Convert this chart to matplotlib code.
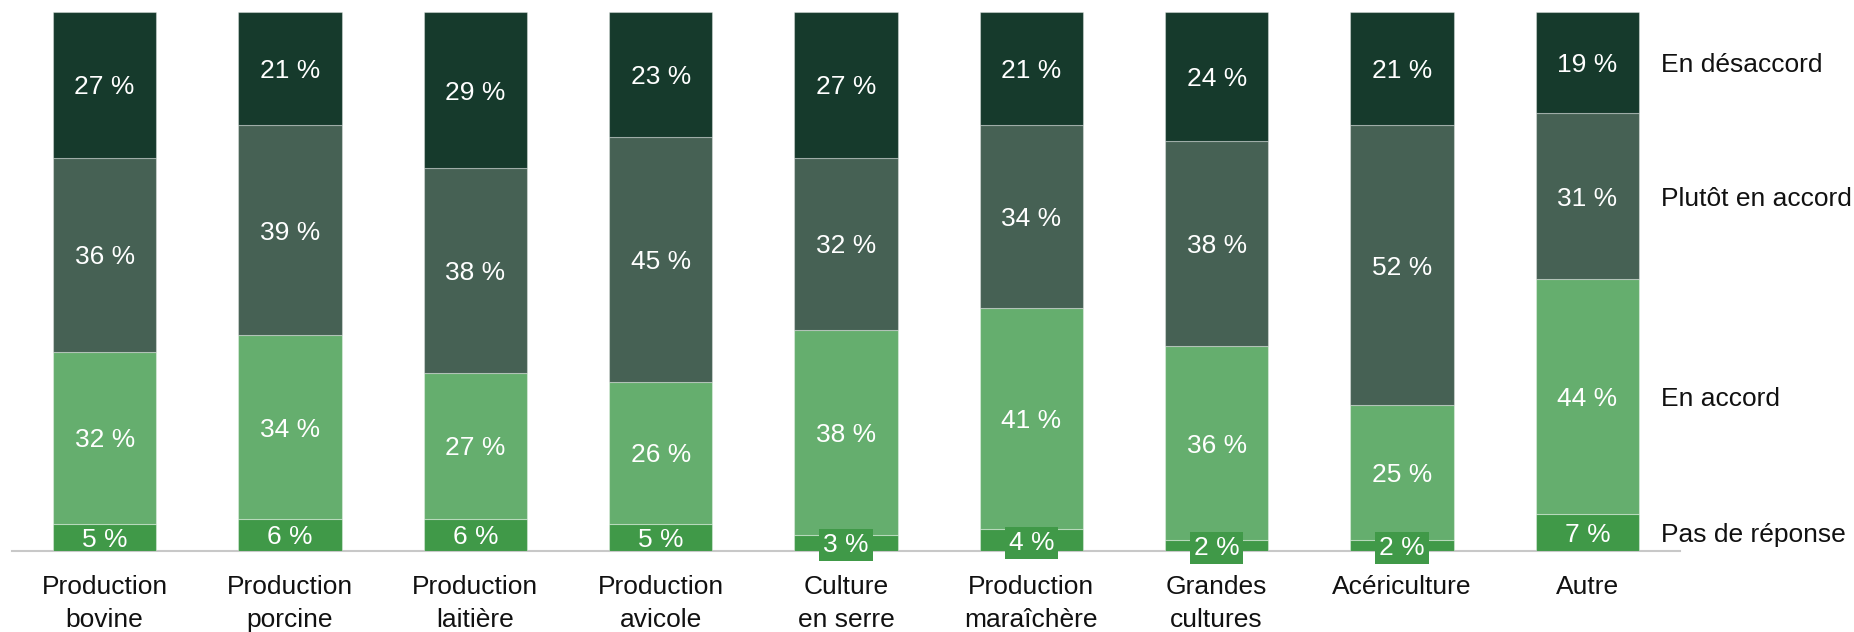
import numpy as np
import matplotlib
matplotlib.use('Agg')
import matplotlib.pyplot as plt

plt.rcParams['font.family'] = ['Liberation Sans', 'DejaVu Sans']

# categories (bottom to top in each bar)
categories = ['Production\nbovine', 'Production\nporcine', 'Production\nlaitière',
              'Production\navicole', 'Culture\nen serre', 'Production\nmaraîchère',
              'Grandes\ncultures', 'Acériculture', 'Autre']
series_names = ['Pas de réponse', 'En accord', 'Plutôt en accord', 'En désaccord']
pas_de_reponse = [5, 6, 6, 5, 3, 4, 2, 2, 7]
en_accord = [32, 34, 27, 26, 38, 41, 36, 25, 44]
plutot_en_accord = [36, 39, 38, 45, 32, 34, 38, 52, 31]
en_desaccord = [27, 21, 29, 23, 27, 21, 24, 21, 19]

colors = ['#409948', '#65ae6e', '#466154', '#163a2c']

def main():
    data = np.array([pas_de_reponse, en_accord, plutot_en_accord, en_desaccord], dtype=float)
    totals = data.sum(axis=0)
    shares = data / totals * 100

    fig = plt.figure(figsize=(18.54, 6.32), dpi=100)
    ax = fig.add_axes([12/1854, 1 - 551/632, (1680 - 12)/1854, (551 - 12)/632])

    x = np.arange(len(categories))
    width = 0.556
    bottom = np.zeros(len(categories))
    for i, name in enumerate(series_names):
        ax.bar(x, shares[i], width, bottom=bottom, color=colors[i],
               edgecolor=(1, 1, 1, 0.35), linewidth=0.8, label=name, zorder=2)
        for j in range(len(categories)):
            yc = bottom[j] + shares[i][j] / 2
            txt = '%d %%' % data[i][j]
            if data[i][j] < 5:
                ax.text(x[j], yc, txt, ha='center', va='center_baseline', color='white', fontsize=19,
                        zorder=5, bbox=dict(boxstyle='square,pad=0.15', fc=colors[i], ec='none'))
            else:
                ax.text(x[j], yc, txt, ha='center', va='center_baseline', color='white',
                        fontsize=19, zorder=5)
        # series name to the right of the last bar
        last = len(categories) - 1
        ax.annotate(name, xy=(x[last] + width / 2, bottom[last] + shares[i][last] / 2),
                    xytext=(16, 0), textcoords='offset points', ha='left', va='center_baseline',
                    fontsize=19, color='#111111', annotation_clip=False)
        bottom += shares[i]

    ax.set_xlim(-0.5, len(categories) - 0.5)
    ax.set_ylim(0, 100)
    for s in ['top', 'right', 'left']:
        ax.spines[s].set_visible(False)
    ax.spines['bottom'].set_color('#c8c8c8')
    ax.spines['bottom'].set_linewidth(1.5)
    ax.spines['bottom'].set_zorder(1)
    ax.set_yticks([])
    ax.set_xticks(x)
    ax.set_xticklabels(categories, fontsize=19, color='#111111', linespacing=1.5)
    ax.tick_params(axis='x', length=0, pad=17)

    fig.savefig('out.png', dpi=100)

if __name__ == '__main__':
    main()
